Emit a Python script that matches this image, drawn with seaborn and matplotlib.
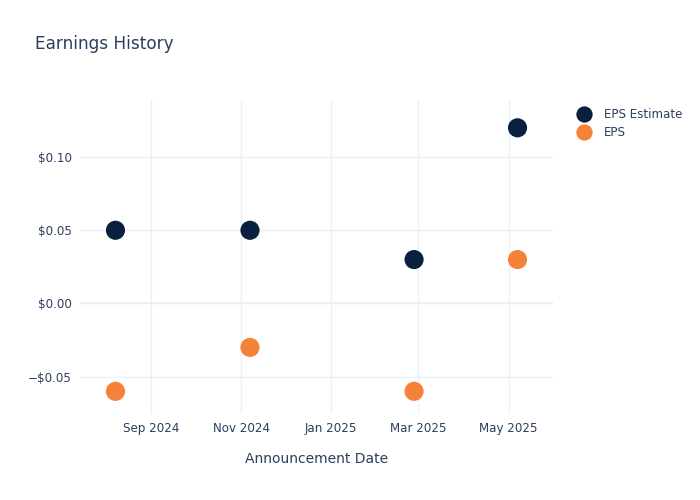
import pandas as pd
import matplotlib.pyplot as plt
import matplotlib.dates as mdates
import matplotlib.ticker as ticker
import seaborn as sns

# datos
dates = ['2024-08-08', '2024-11-07', '2025-02-26', '2025-05-07']
eps_estimate = [0.05, 0.05, 0.03, 0.12]
eps_actual = [-0.06, -0.03, -0.06, 0.03]
series_names = ['EPS Estimate', 'EPS']

df = pd.DataFrame({
    'date': pd.to_datetime(dates * 2),
    'value': eps_estimate + eps_actual,
    'serie': [series_names[0]] * 4 + [series_names[1]] * 4,
})

sns.set_style('white')
plt.rcParams['font.family'] = ['DejaVu Sans']
text_color = '#2a3f5f'
grid_color = '#ebf0f8'

fig = plt.figure(figsize=(7, 5), dpi=100)
ax = fig.add_axes([80 / 700, 86 / 500, 473 / 700, 314 / 500])

sns.scatterplot(data=df, x='date', y='value', hue='serie',
                palette={'EPS Estimate': '#0b1f3f', 'EPS': '#f58238'},
                s=190, linewidth=0, ax=ax, zorder=3)

ax.set_xlim(pd.Timestamp('2024-07-15'), pd.Timestamp('2025-05-31'))
ax.set_ylim(-0.0755, 0.139)

ax.xaxis.set_major_locator(mdates.MonthLocator(bymonth=[1, 3, 5, 7, 9, 11]))
ax.xaxis.set_major_formatter(mdates.DateFormatter('%b %Y'))
ax.set_yticks([-0.05, 0, 0.05, 0.10])
ax.yaxis.set_major_formatter(ticker.FuncFormatter(
    lambda v, pos: ('\u2212$' if v < -1e-9 else '$') + '{:.2f}'.format(abs(v))))

ax.grid(True, color=grid_color, linewidth=1)
ax.axhline(0, color=grid_color, linewidth=1.6, zorder=1)
for s in ax.spines.values():
    s.set_visible(False)
ax.tick_params(axis='both', length=0, labelsize=8.6, colors=text_color, pad=6)

ax.set_xlabel('Announcement Date', fontsize=10, color=text_color, labelpad=12)
ax.set_ylabel('')

fig.text(35 / 700, 1 - 44 / 500, 'Earnings History', fontsize=12.2,
         color=text_color, va='center', ha='left')

leg = ax.legend(loc='upper left', bbox_to_anchor=(1.03, 0.99), frameon=False,
                fontsize=8.6, handletextpad=0.7, labelspacing=0.45,
                borderaxespad=0, markerscale=0.85)
for t in leg.get_texts():
    t.set_color(text_color)

fig.savefig('out.png', dpi=100)
